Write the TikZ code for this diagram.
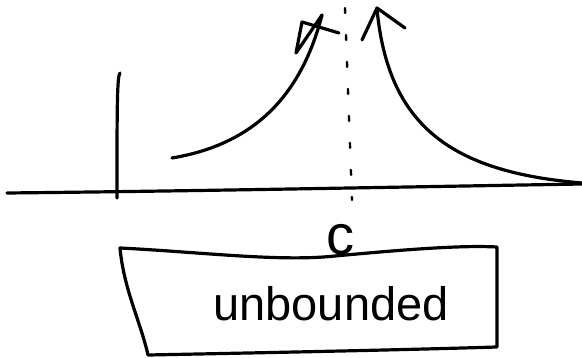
\documentclass[tikz,border=0pt]{standalone}
\usepackage{fontspec}
\setmainfont{Liberation Sans}
\begin{document}
\begin{tikzpicture}[x=1pt,y=-1pt,line cap=round,line join=round,
  sketch/.style={draw=black,line width=3.2pt},
  dotline/.style={draw=black,line width=2.4pt,dash pattern=on 5pt off 22pt},
  handtext/.style={inner sep=0pt,anchor=base}]
\useasboundingbox (0,0) rectangle (582,358);
% axes
\draw[sketch] (7,193) .. controls (200,191) and (400,187) .. (582,184);
\draw[sketch] (120,73) .. controls (117,76) and (117,110) .. (117,198);
% asymptote
\coordinate (asymTop) at (345,8);
\coordinate (asymBot) at (352,200);
\draw[dotline] (asymTop) -- (asymBot);
% left branch
\draw[sketch] (172,158) .. controls (250,145) and (300,100) .. (322,15);
\draw[sketch] (322,15) -- (296,53) -- (302,22) -- (339,33);
% right branch
\draw[sketch] (582,183) .. controls (450,172) and (388,125) .. (377,9);
\draw[sketch] (362,40) -- (377,8) -- (405,28);
% c label
\node[handtext,font=\fontsize{56}{58}\selectfont] (c) at (340,255) {c};
% box
\draw[sketch] (120,248) .. controls (200,252) and (280,262) .. (335,256)
  .. controls (400,250) and (460,245) .. (497,247) -- (497,347)
  .. controls (400,350) and (250,353) .. (148,355)
  .. controls (140,320) and (124,290) .. (120,248) -- cycle;
\node[handtext,font=\fontsize{47}{50}\selectfont] (label) at (331,321) {unbounded};
\end{tikzpicture}
\end{document}
